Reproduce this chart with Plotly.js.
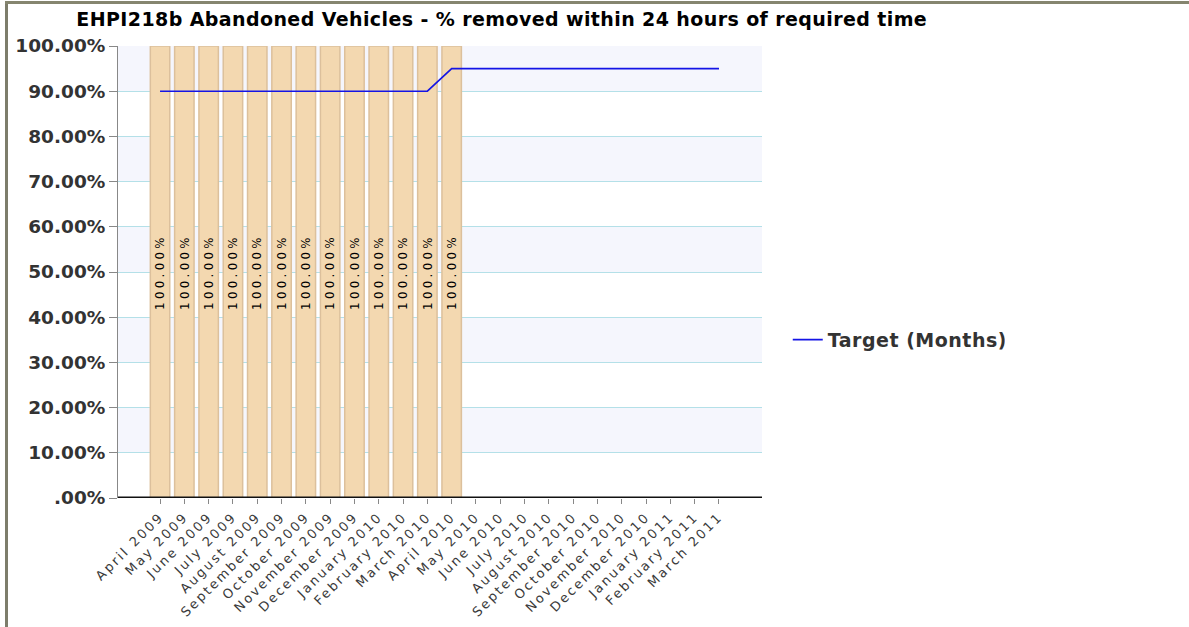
<!DOCTYPE html>
<html>
<head>
<meta charset="utf-8">
<script src="https://cdn.plot.ly/plotly-3.0.1.min.js"></script>
<style>
  body { margin: 0; background: #fff; }
  #plotArea { width: 1189px; height: 627px; }
  #frameLeft { position: absolute; left: 5px; top: 1px; width: 3px; height: 626px; background: #7d7d6b; }
  #frameTop { position: absolute; left: 5px; top: 1px; width: 1184px; height: 3px; background: #85856f; }
  /* the original chart draws its labels with wider spacing */
  #plotArea .xtick text { letter-spacing: 2.3px; }
  #plotArea .bartext { letter-spacing: 4px; }
  #plotArea .gtitle { letter-spacing: 0.4px; }
  #plotArea .legendtext { letter-spacing: 0.5px; }
</style>
</head>
<body>
<div id="plotArea"></div>
<div id="frameLeft"></div>
<div id="frameTop"></div>
<script>
var months = ["April 2009", "May 2009", "June 2009", "July 2009", "August 2009", "September 2009",
  "October 2009", "November 2009", "December 2009", "January 2010", "February 2010", "March 2010",
  "April 2010", "May 2010", "June 2010", "July 2010", "August 2010", "September 2010",
  "October 2010", "November 2010", "December 2010", "January 2011", "February 2011", "March 2011"];

// actual performance, only reported up to April 2010
var actual = [100, 100, 100, 100, 100, 100, 100, 100, 100, 100, 100, 100, 100,
  null, null, null, null, null, null, null, null, null, null, null];

var target = [90, 90, 90, 90, 90, 90, 90, 90, 90, 90, 90, 90,
  95, 95, 95, 95, 95, 95, 95, 95, 95, 95, 95, 95];

var yTicks = [0, 10, 20, 30, 40, 50, 60, 70, 80, 90, 100];
var yTickText = [".00%", "10.00%", "20.00%", "30.00%", "40.00%", "50.00%",
  "60.00%", "70.00%", "80.00%", "90.00%", "100.00%"];

var barLabels = actual.map(function (v) { return v === null ? "" : v.toFixed(2) + "%"; });

var fontFamily = "DejaVu Sans, Verdana, sans-serif";

var traces = [{
    x: months,
    y: actual,
    type: "bar",
    width: 0.8,
    text: barLabels,
    textposition: "inside",
    insidetextanchor: "middle",
    textangle: -90,
    textfont: { family: fontFamily, size: 14, color: "#000" },
    marker: { color: "#f3d8b0", line: { color: "#dcc09c", width: 1.5 } },
    showlegend: false,
    hoverinfo: "x+y"
  }, {
    x: months,
    y: target,
    type: "scatter",
    mode: "lines",
    name: "Target (Months)",
    line: { color: "#1414e6", width: 1.6 }
  }];

// alternating background bands
var bands = [];
for (var b = 10; b < 100; b += 20) {
  bands.push({
    type: "rect", xref: "paper", yref: "y", x0: 0, x1: 1, y0: b, y1: b + 10,
    fillcolor: "#f5f6fd", line: { width: 0 }, layer: "below"
  });
}

var layout = {
  width: 1189,
  height: 627,
  margin: { l: 118, r: 427, t: 46, b: 129 },
  paper_bgcolor: "#fff",
  plot_bgcolor: "#fff",
  font: { family: fontFamily, color: "#333" },
  title: {
    text: "<b>EHPI218b Abandoned Vehicles - % removed within 24 hours of required time</b>",
    font: { family: fontFamily, size: 19, color: "#000" },
    x: 0.422, xanchor: "center", y: 0.969, yanchor: "middle"
  },
  xaxis: {
    type: "category",
    range: [-1.73, 24.77],
    tickangle: -45,
    tickfont: { family: fontFamily, size: 13, color: "#3a3a3a" },
    ticks: "outside",
    ticklen: 5,
    tickcolor: "#888",
    showgrid: false,
    showline: false,
    zeroline: false
  },
  yaxis: {
    range: [0, 100],
    tickvals: yTicks,
    ticktext: yTickText,
    tickfont: { family: fontFamily, size: 18.5, color: "#333", weight: "bold" },
    ticks: "outside",
    ticklen: 8,
    tickcolor: "#888",
    showline: true,
    linecolor: "#888",
    linewidth: 1,
    gridcolor: "#b4e0e8",
    gridwidth: 1,
    zeroline: false
  },
  shapes: bands.concat([{
    type: "line", xref: "paper", yref: "y", x0: 0, x1: 1, y0: 0, y1: 0,
    line: { color: "#111", width: 3 }, layer: "above"
  }]),
  legend: {
    x: 1.040, xanchor: "left", y: 0.35, yanchor: "middle",
    font: { family: fontFamily, size: 19, color: "#333", weight: "bold" },
    itemwidth: 30,
    bgcolor: "rgba(0,0,0,0)"
  }
};

Plotly.newPlot("plotArea", traces, layout, { displayModeBar: false });
</script>
</body>
</html>
